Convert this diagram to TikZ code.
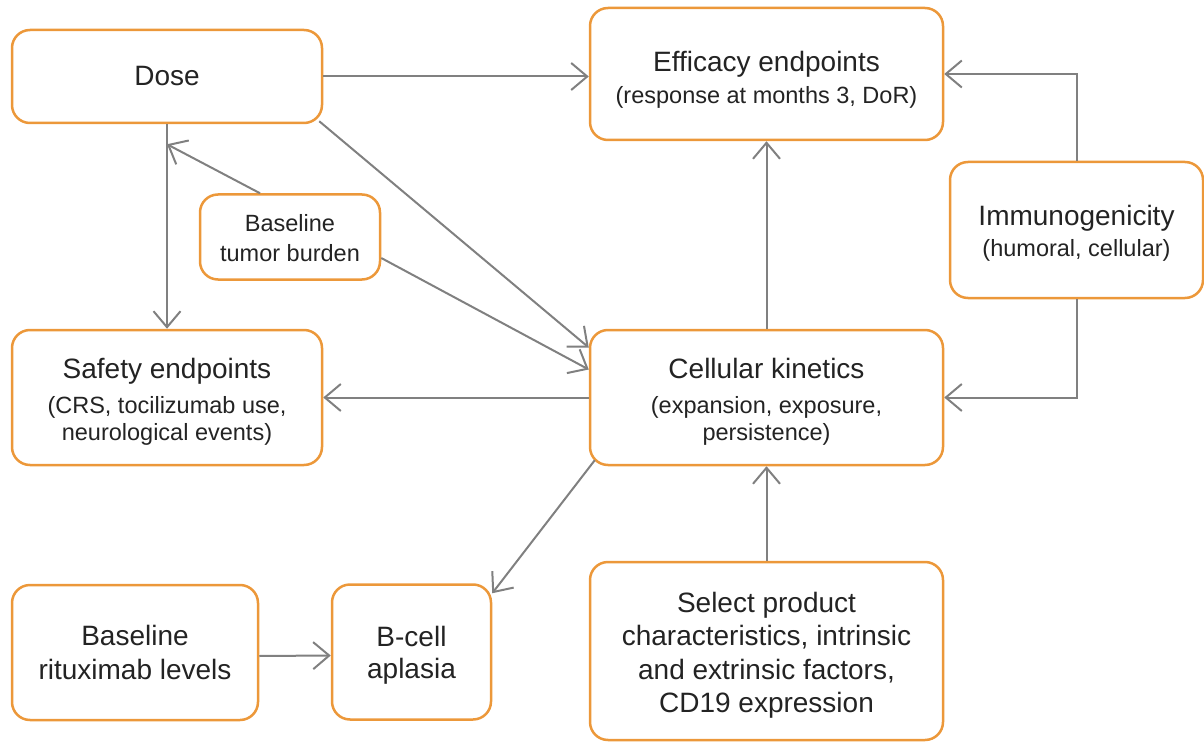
\documentclass[tikz,border=0pt]{standalone}
\usepackage{fontspec}
\setmainfont{Liberation Sans}
\usetikzlibrary{arrows.meta}
\definecolor{edge}{RGB}{236,152,58}
\definecolor{wire}{RGB}{128,128,128}
\definecolor{ink}{RGB}{35,35,35}
\newcommand{\mainf}{\fontsize{28}{33.6}\selectfont}
\newcommand{\subf}{\fontsize{23.5}{27}\selectfont}
\newcommand{\tall}[1]{\rule{0pt}{#1pt}}
\tikzset{
  box/.style={draw=edge, line width=2.5pt, rounded corners=18pt, align=center, text=ink, inner sep=2pt, font=\mainf},
  flow/.style={draw=wire, line width=2pt, -{Straight Barb[length=16pt,width=27pt]}},
}
\begin{document}
\begin{tikzpicture}[x=1pt, y=-1pt]
  \useasboundingbox (0,0) rectangle (1204,743);
  \node[box, minimum width=310pt, minimum height=93pt] (dose) at (167,76.5) {Dose};
  \node[box, minimum width=353pt, minimum height=132pt] (eff) at (766.5,74) {\tall{32.4}Efficacy endpoints\\[-1.5pt]{\subf (response at months 3, DoR)}};
  \node[box, minimum width=253pt, minimum height=136pt] (imm) at (1076.5,230) {\tall{26.5}Immunogenicity\\[-2pt]{\subf (humoral, cellular)}};
  \node[box, font=\subf, minimum width=180pt, minimum height=85pt] (tum) at (290,237) {\tall{19.6}Baseline\\[3pt]tumor burden};
  \node[box, font=\subf, minimum width=310pt, minimum height=135pt] (saf) at (167,397.5) {{\mainf\tall{27.9}Safety endpoints}\\[8pt](CRS, tocilizumab use,\\neurological events)};
  \node[box, font=\subf, minimum width=353pt, minimum height=135pt] (ck) at (766.5,397.5) {{\mainf\tall{27.9}Cellular kinetics}\\[8pt](expansion, exposure,\\persistence)};
  \node[box, minimum width=246pt, minimum height=135pt] (rit) at (135,652.5) {Baseline\\rituximab levels};
  \node[box, minimum width=159pt, minimum height=135pt] (bca) at (411.5,652) {\tall{25.9}B-cell\\[-1.6pt]aplasia};
  \node[box, minimum width=353pt, minimum height=178pt] (sel) at (766.5,651) {\tall{28.7}Select product\\characteristics, intrinsic\\and extrinsic factors,\\CD19 expression};
  \coordinate (dl) at ([yshift=-20pt]dose.south);
  \draw[flow] (dose.east) -- (dose.east -| eff.west);
  \draw[flow] ([xshift=-4pt,yshift=3pt]dose.south east) -- ([yshift=50pt]ck.west);
  \draw[flow] ([yshift=-21pt]tum.east) -- ([yshift=28pt]ck.west);
  \draw[flow] ([xshift=-30pt]tum.north) -- (dl);
  \draw[flow] (dose.south) -- (saf.north);
  \draw[flow] (ck.west) -- (saf.east);
  \draw[flow] (ck.north) -- (eff.south);
  \draw[flow] (imm.north) |- (eff.east);
  \draw[flow] (imm.south) |- (ck.east);
  \draw[flow] ([xshift=6pt,yshift=6pt]ck.south west) -- ([yshift=-10pt]bca.north east);
  \draw[flow] ([yshift=-3.5pt]rit.east) -- ([yshift=-3.5pt]bca.west);
  \draw[flow] (sel.north) -- (ck.south);
\end{tikzpicture}
\end{document}
